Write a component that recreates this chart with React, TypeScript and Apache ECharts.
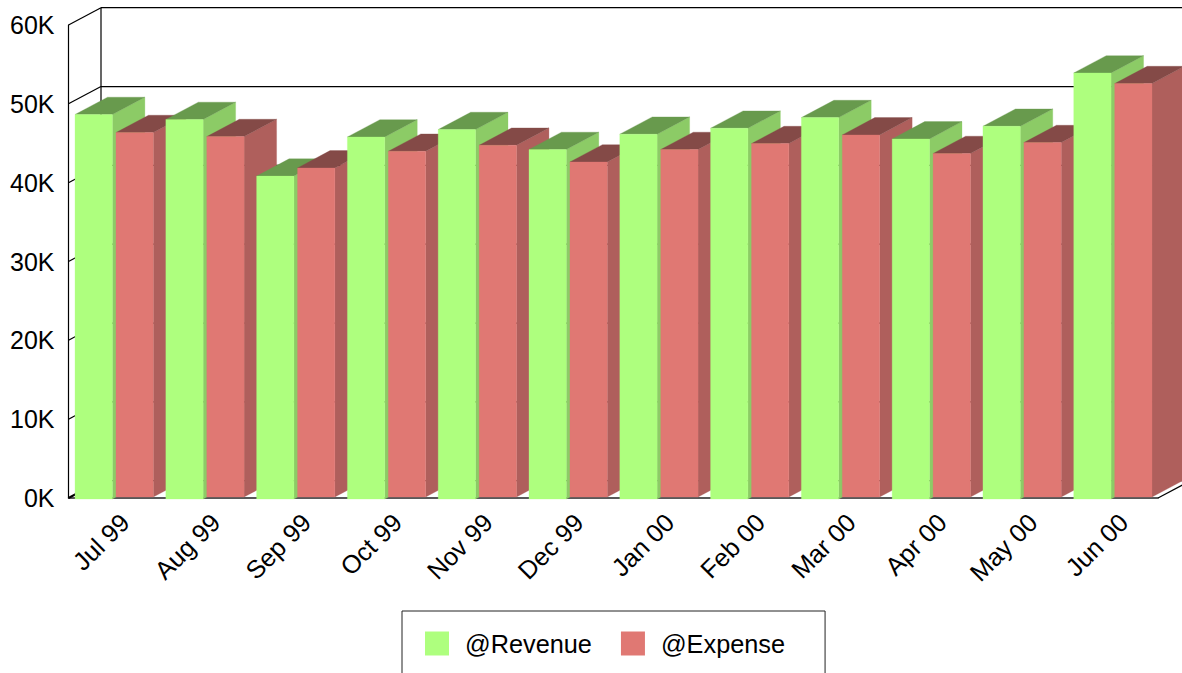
import React, { useEffect, useRef } from "react";
import * as echarts from "echarts";

const months = ["Jul 99", "Aug 99", "Sep 99", "Oct 99", "Nov 99", "Dec 99", "Jan 00", "Feb 00", "Mar 00", "Apr 00", "May 00", "Jun 00"];
const revenue = [48650, 48020, 40830, 45800, 46740, 44210, 46150, 46910, 48260, 45550, 47160, 53920];
const expense = [46360, 45850, 41870, 43990, 44750, 42630, 44210, 44960, 46060, 43700, 45090, 52570];
const wallTicks = [0, 10000, 20000, 30000, 40000, 50000, 60000];

const FONT = "'Liberation Sans', Arial, sans-serif";
const DEPTH_X = 32.5;
const DEPTH_Y = 17.3;
const BAR_W = 0.411;

function barRenderer(offset: number, faces: string[], seriesOrder: number, bottomShift: number) {
  return (params: any, api: any) => {
    const i = api.value(0);
    const top = api.coord([i, api.value(1)]);
    const base = api.coord([i, 0]);
    const band = api.size([1, 0])[0];
    const x0 = top[0] + offset * band;
    const x1 = x0 + BAR_W * band;
    const yT = top[1];
    const yB = base[1] + bottomShift;
    const z2 = i * 3 + seriesOrder;
    const poly = (points: number[][], fill: string) => ({
      type: "polygon",
      z2,
      silent: true,
      shape: { points },
      style: { fill, stroke: fill, lineWidth: 0.3 },
    });
    return {
      type: "group",
      children: [
        poly([[x1, yT], [x1 + DEPTH_X, yT - DEPTH_Y], [x1 + DEPTH_X, yB - DEPTH_Y], [x1, yB]], faces[1]),
        poly([[x0, yT], [x0 + DEPTH_X, yT - DEPTH_Y], [x1 + DEPTH_X, yT - DEPTH_Y], [x1, yT]], faces[2]),
        poly([[x0, yT], [x1, yT], [x1, yB], [x0, yB]], faces[0]),
      ],
    };
  };
}

function wallRenderer(params: any, api: any) {
  const v = api.value(1);
  const band = api.size([1, 0])[0];
  const p = api.coord([0, v]);
  const left = p[0] - band / 2;
  const right = left + band * months.length;
  const y = p[1];
  const line = (x1: number, y1: number, x2: number, y2: number, w = 1.2) => ({
    type: "line",
    z2: -5,
    silent: true,
    shape: { x1, y1, x2, y2 },
    style: { stroke: "#000", lineWidth: w },
  });
  const children: any[] = [
    line(left, y, left + DEPTH_X, y - DEPTH_Y, v === 0 ? 2 : 1.2),
    line(left + DEPTH_X, y - DEPTH_Y, right + DEPTH_X, y - DEPTH_Y),
  ];
  if (v === 0) {
    children.push(line(right, y, right + DEPTH_X, y - DEPTH_Y));
  }
  if (v === wallTicks[wallTicks.length - 1]) {
    const floor = api.coord([0, 0])[1];
    children.push(line(left + DEPTH_X, y - DEPTH_Y, left + DEPTH_X, floor - DEPTH_Y));
  }
  return { type: "group", children };
}

export default function App() {
  const ref = useRef<HTMLDivElement>(null);
  useEffect(() => {
    const chart = echarts.init(ref.current!, undefined, { renderer: "svg" });
    chart.setOption({
      animation: false,
      backgroundColor: "#fff",
      grid: { left: 68.5, right: 24, top: 25, bottom: 175, containLabel: false },
      legend: {
        left: 402,
        top: 611,
        data: ["@Revenue", "@Expense"],
        icon: "rect",
        itemWidth: 24,
        itemHeight: 24,
        itemGap: 29,
        padding: [20, 40, 20, 23],
        borderColor: "#222",
        borderWidth: 1,
        borderRadius: 0,
        selectedMode: false,
        textStyle: { fontFamily: FONT, fontSize: 25.3, color: "#000", padding: [0, 0, 2, 11] },
      },
      xAxis: {
        type: "category",
        data: months,
        axisTick: { show: false },
        axisLine: { show: true, lineStyle: { color: "#222", width: 1.5 } },
        axisLabel: {
          rotate: 45,
          interval: 0,
          margin: 31,
          padding: [0, -15.5, 0, 0],
          fontFamily: FONT,
          fontSize: 25.3,
          color: "#000",
        },
        splitLine: { show: false },
      },
      yAxis: {
        type: "value",
        min: 0,
        max: 60000,
        interval: 10000,
        axisTick: { show: false },
        axisLine: { show: true, lineStyle: { color: "#000", width: 1.2 } },
        splitLine: { show: false },
        axisLabel: {
          margin: 14,
          padding: [2, 0, 0, 0],
          fontFamily: FONT,
          fontSize: 25,
          color: "#000",
          formatter: (v: number) => `${v / 1000}K`,
        },
      },
      series: [
        {
          type: "custom",
          name: "walls",
          data: wallTicks.map((v) => [0, v]),
          encode: { x: 0, y: 1 },
          renderItem: wallRenderer,
          silent: true,
        },
        {
          type: "custom",
          name: "@Revenue",
          itemStyle: { color: "#AEFF7E" },
          data: revenue.map((v, i) => [i, v]),
          encode: { x: 0, y: 1 },
          renderItem: barRenderer(-0.428, ["#AEFF7E", "#8CCB66", "#689A4D"], 0, 1),
          silent: true,
        },
        {
          type: "custom",
          name: "@Expense",
          itemStyle: { color: "#E07873" },
          data: expense.map((v, i) => [i, v]),
          encode: { x: 0, y: 1 },
          renderItem: barRenderer(0.023, ["#E07873", "#AF5F5C", "#844A47"], 1, -1),
          silent: true,
        },
      ],
    });
    return () => chart.dispose();
  }, []);
  return <div ref={ref} style={{ position: "fixed", left: 0, top: 0, width: 1182, height: 673, overflow: "hidden" }} />;
}
